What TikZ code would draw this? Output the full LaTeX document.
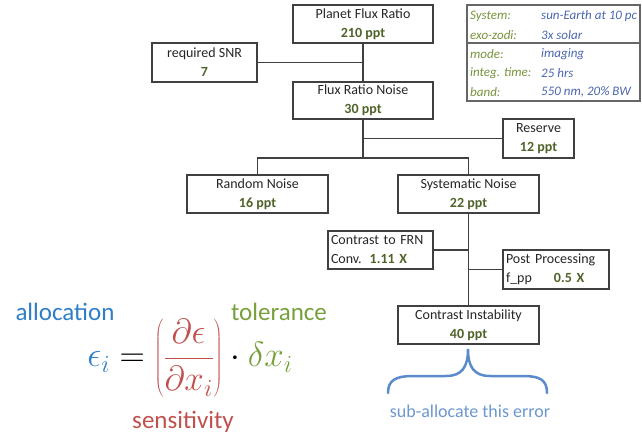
\documentclass[tikz,border=0pt]{standalone}
\usepackage{fix-cm}
\usepackage{fontspec}
\setmainfont{Carlito}
\usepackage{xcolor}
\definecolor{val}{HTML}{4F6228}
\definecolor{infolab}{HTML}{77933C}
\definecolor{infoval}{HTML}{4A66AC}
\definecolor{alloc}{HTML}{2F7FC8}
\definecolor{sens}{HTML}{C0504D}
\definecolor{tol}{HTML}{77A03C}
\definecolor{brc}{HTML}{5B8BCB}
\definecolor{edge}{HTML}{404040}
\begin{document}
\begin{tikzpicture}[x=1pt,y=-1pt,
  box/.style={draw=edge,line width=1.2pt,rectangle,inner sep=0pt,align=center,
    font=\fontsize{14}{19}\selectfont,text=black!85},
  lbox/.style={draw=edge,line width=1.2pt,rectangle,inner xsep=3pt,inner ysep=0pt,align=left,
    font=\fontsize{14}{19}\selectfont,text=black!85},
  conn/.style={draw=edge,line width=1.1pt},
  inf/.style={anchor=west,inner sep=0pt,font=\fontsize{13}{15}\selectfont\itshape},
  big/.style={inner sep=0pt,font=\fontsize{25}{28}\selectfont}]
\useasboundingbox (0,0) rectangle (642,434);
\newcommand{\vv}[1]{\textcolor{val}{\bfseries #1}}
% boxes
\node[box,minimum width=140pt,minimum height=38pt] (planet) at (363,24) {Planet Flux Ratio\\\vv{210 ppt}};
\node[box,minimum width=105pt,minimum height=39pt] (snr) at (204.5,62.5) {required SNR\\\vv{7}};
\node[box,minimum width=140pt,minimum height=37pt] (frn) at (363,100.5) {Flux Ratio Noise\\\vv{30 ppt}};
\node[box,minimum width=71pt,minimum height=39pt] (res) at (538.5,138.5) {Reserve\\\vv{12 ppt}};
\node[box,minimum width=141pt,minimum height=38pt] (rn) at (257.5,194) {Random Noise\\\vv{16 ppt}};
\node[box,minimum width=141pt,minimum height=38pt] (sn) at (468.5,194) {Systematic Noise\\\vv{22 ppt}};
\node[lbox,text width=99pt,minimum height=38pt] (cfrn) at (380.5,250) {Contrast to FRN\\Conv.\hspace{8pt}\vv{1.11 X}};
\node[lbox,text width=100pt,minimum height=39pt] (pp) at (556,269.5) {Post Processing\\f\_pp\hspace{22pt}\vv{0.5 X}};
\node[box,minimum width=141pt,minimum height=38pt] (ci) at (468.5,325) {Contrast Instability\\\vv{40 ppt}};
% connectors
\coordinate (jb) at (363,158);
\draw[conn] (planet.south) -- (frn.north);
\draw[conn] (snr.east) -- (snr.east -| planet.south);
\draw[conn] (frn.south) -- (jb);
\draw[conn] (res.west) -- (res.west -| frn.south);
\draw[conn] (rn.north) |- (jb) -| (sn.north);
\draw[conn] (sn.south) -- (ci.north);
\draw[conn] (cfrn.east) -- (cfrn.east -| sn.south);
\draw[conn] (pp.west) -- (pp.west -| sn.south);
% info box
\draw[draw=edge!80,line width=1.3pt] (467,5) rectangle (640,101);
\draw[draw=edge!80,line width=1.3pt] (467,43) -- (640,43);
\node[inf,text=infolab] (l1) at (470,16) {System:};
\node[inf,text=infolab] (l2) at (470,35) {exo-zodi:};
\node[inf,text=infolab] (l3) at (470,54) {mode:};
\node[inf,text=infolab] (l4) at (470,73) {integ. time:};
\node[inf,text=infolab] (l5) at (470,92) {band:};
\node[inf,text=infoval] (v1) at (541,16) {sun-Earth at 10 pc};
\node[inf,text=infoval] (v2) at (541,35) {3x solar};
\node[inf,text=infoval] (v3) at (541,54) {imaging};
\node[inf,text=infoval] (v4) at (541,73) {25 hrs};
\node[inf,text=infoval] (v5) at (541,92) {550 nm, 20\% BW};
% formula
\node[big,text=alloc] (alloc) at (65,312) {allocation};
\node[big,text=tol] (tolr) at (279,312) {tolerance};
\node[big,text=sens] (sensl) at (183,422) {sensitivity};
\node[inner sep=0pt,font=\fontsize{35}{38}\selectfont] (eq) at (190,358) {$\displaystyle\color{alloc}\epsilon_i\color{black}=\color{sens}\left(\frac{\partial\epsilon}{\partial x_i}\right)\color{black}\cdot\color{tol}\delta x_i$};
% brace
\draw[brc,line width=2.5pt,line cap=round] (388,393) .. controls (388,380) and (396,376) .. (413,376) -- (446,376) .. controls (462,376) and (468,367) .. (468,349) .. controls (468,367) and (474,376) .. (490,376) -- (523,376) .. controls (540,376) and (547,380) .. (547,393);
\node[inner sep=0pt,text=brc!90,font=\fontsize{18}{20}\selectfont] (sub) at (470,411) {sub-allocate this error};
\end{tikzpicture}
\end{document}
